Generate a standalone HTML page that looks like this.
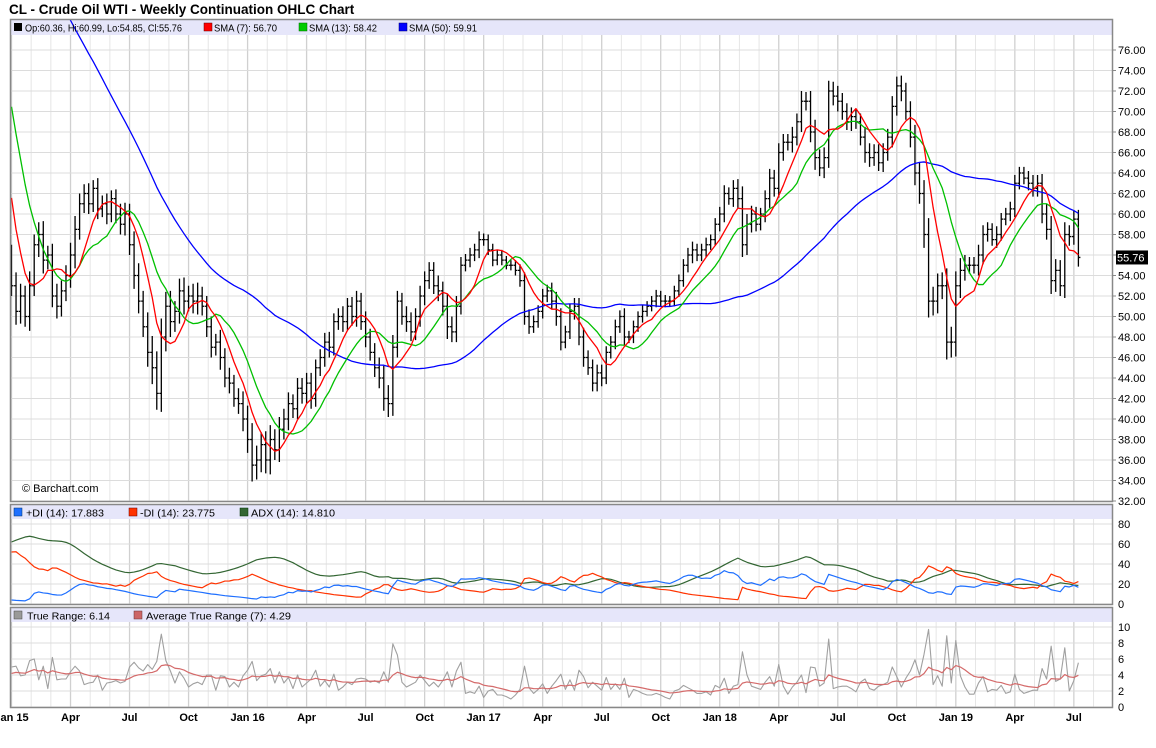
<!DOCTYPE html>
<html><head><meta charset="utf-8"><title>CL - Crude Oil WTI - Weekly Continuation OHLC Chart</title>
<style>
html,body{margin:0;padding:0;background:#fff;}
svg{display:block;font-family:"Liberation Sans",Arial,sans-serif;}
</style></head>
<body>
<svg id="chart" width="1156" height="748" viewBox="0 0 1156 748" xmlns="http://www.w3.org/2000/svg">
<text x="9" y="14" font-size="13.5" font-weight="bold" fill="#000">CL - Crude Oil WTI - Weekly Continuation OHLC Chart</text>
<g id="grid"></g>
<g id="bands">
<rect x="11" y="20" width="1101" height="15" fill="#e6e6fa"/>
<rect x="11" y="505" width="1101" height="14" fill="#e6e6fa"/>
<rect x="11" y="608" width="1101" height="14" fill="#e6e6fa"/>
</g>
<defs>
<clipPath id="clipMain"><rect x="11" y="20" width="1101" height="481"/></clipPath>
<clipPath id="clipDmi"><rect x="11" y="505" width="1101" height="99"/></clipPath>
<clipPath id="clipAtr"><rect x="11" y="608" width="1101" height="99"/></clipPath>
</defs>
<g id="main" clip-path="url(#clipMain)"></g>
<g id="dmi" clip-path="url(#clipDmi)"></g>
<g id="atr" clip-path="url(#clipAtr)"></g>
<g id="frames" fill="none" stroke="#888" stroke-width="1.5">
<rect x="10.5" y="19.5" width="1102" height="482"/>
<rect x="10.5" y="504.5" width="1102" height="100"/>
<rect x="10.5" y="607.5" width="1102" height="100"/>
</g>
<g id="axes" font-size="11" fill="#000"></g>
<g id="legends" font-size="10.5" fill="#000">
<rect x="14" y="23" width="8" height="8" fill="#000"/>
<text x="25" y="31.5" textLength="157" lengthAdjust="spacingAndGlyphs">Op:60.36, Hi:60.99, Lo:54.85, Cl:55.76</text>
<rect x="204" y="23" width="8" height="8" fill="#f00" stroke="#600" stroke-width="0.5"/>
<text x="214" y="31.5" textLength="63" lengthAdjust="spacingAndGlyphs">SMA (7): 56.70</text>
<rect x="299" y="23" width="8" height="8" fill="#0c0" stroke="#060" stroke-width="0.5"/>
<text x="309" y="31.5" textLength="68" lengthAdjust="spacingAndGlyphs">SMA (13): 58.42</text>
<rect x="399" y="23" width="8" height="8" fill="#00f" stroke="#006" stroke-width="0.5"/>
<text x="409" y="31.5" textLength="68" lengthAdjust="spacingAndGlyphs">SMA (50): 59.91</text>
<rect x="14" y="508" width="8" height="8" fill="#1e6fff" stroke="#036" stroke-width="0.5"/>
<text x="26" y="516.5" textLength="78" lengthAdjust="spacingAndGlyphs">+DI (14): 17.883</text>
<rect x="129" y="508" width="8" height="8" fill="#ff3300" stroke="#600" stroke-width="0.5"/>
<text x="140" y="516.5" textLength="75" lengthAdjust="spacingAndGlyphs">-DI (14): 23.775</text>
<rect x="240" y="508" width="8" height="8" fill="#336633" stroke="#030" stroke-width="0.5"/>
<text x="251" y="516.5" textLength="84" lengthAdjust="spacingAndGlyphs">ADX (14): 14.810</text>
<rect x="14" y="611" width="8" height="8" fill="#999" stroke="#444" stroke-width="0.5"/>
<text x="27" y="619.5" textLength="83" lengthAdjust="spacingAndGlyphs">True Range: 6.14</text>
<rect x="134" y="611" width="8" height="8" fill="#cc6666" stroke="#633" stroke-width="0.5"/>
<text x="146" y="619.5" textLength="145" lengthAdjust="spacingAndGlyphs">Average True Range (7): 4.29</text>
<text x="22" y="492" font-size="11">© Barchart.com</text>
</g>
</svg>
<script>
// ---- data (weekly) ----
const preCloses = [99,100,101,100,99,98,99,100,101,102,101,100,99,100,101,102,102,101,102,103,103,103,102,101,100,99,97,96,95,94,93,92,91,90,89,88,87,85,84,82,80,78,76,72,68,64,60,58,56];
const closes = [
53,50.5,52,50,53,57,58,55.5,56,52,51,52.5,54,
56,58.5,61,62,61,62.5,60.5,61,60,61.5,60,59,60,
57,54,51.5,49,46.5,45,42.5,48,51,49.5,50.5,52.5,51.5,
52,51.5,52,51,49,47,47.5,46,44,43.5,42,41.5,40,
38,35.5,36,37.5,36,38,37,39,40,41.5,41,43,42.5,
43.5,42,45,46,47.5,47,49.5,50,49.5,51,50,51.5,49.5,
48,46.5,45,44,42,41.5,47,51.5,50,49.5,48.5,50,52,
53.5,54.5,53,52.5,51,49,48.5,51,55,55.5,56,56.5,57.5,
57.5,56.5,55.5,56,55.5,55,55,54.5,53.5,50,49,49.5,50.5,
52,52.5,51.5,50,47.5,48.5,50.5,51,48,46,45,43.5,44.5,
44,46.5,47.5,49,50,48,48,49,50,50.5,51,51.5,52,
51.5,51.5,51.5,52.5,53.5,55,56,56.5,56,56.5,57,57.5,59,
60,62,61.5,62.5,61.5,57,59,60,59,60,61.5,63.5,62.5,
66,67,67,67.5,69,71,71,68,65.5,64.5,65.5,72,71.5,
71,70,69,69.5,69,67.5,66,65.5,66,65,66,67.5,70.5,
72.5,72,70,67.5,64,62,58,51.5,51.5,53,53,47.5,47.5,
53,54.5,55,55,55,56,58,58.5,57.5,58,59.5,60,60.5,
63,64,63.5,63,62.5,63,60,58.5,53.5,54.5,53,58,57.8,
59.5,55.76];
const wicks = [
1.0,1.3,1.2,1.0,1.4,1.0,1.2,1.3,0.9,1.1,1.2,1.0,1.0,
1.2,1.3,1.0,0.9,1.0,0.8,1.0,0.8,1.0,0.8,0.9,1.0,1.1,
1.0,1.3,1.2,1.0,1.4,1.6,1.6,1.8,1.4,1.5,1.0,1.2,1.3,
1.0,1.2,1.3,0.9,1.0,1.0,0.8,1.2,0.9,1.0,0.8,1.0,1.2,
1.3,1.6,1.4,1.2,1.3,1.4,1.0,1.2,1.0,1.1,0.9,1.0,1.0,
1.0,1.0,0.8,0.8,0.9,1.0,0.8,0.8,1.0,0.8,0.9,1.0,0.8,
1.0,0.8,0.9,1.0,1.2,1.3,1.2,1.0,0.8,1.0,0.9,0.8,1.0,
0.9,0.8,0.8,1.0,0.9,1.2,1.0,1.0,0.8,0.6,0.7,0.6,0.8,
0.6,0.5,0.6,0.5,0.5,0.4,0.5,0.5,0.6,0.8,0.7,0.6,0.6,
0.7,0.6,0.8,0.9,0.8,0.6,0.7,0.8,0.8,0.9,0.7,0.8,0.8,
0.8,0.6,0.6,0.7,0.6,0.8,0.6,0.6,0.5,0.6,0.5,0.5,0.6,
0.5,0.6,0.5,0.5,0.6,0.6,0.7,0.8,0.6,0.6,0.7,0.5,0.6,
0.7,0.8,0.6,0.8,0.9,1.2,1.0,0.8,0.7,0.6,0.8,0.9,0.8,
0.9,0.8,0.8,1.0,0.8,1.0,0.9,1.0,1.2,0.8,1.0,1.0,0.9,
1.0,0.8,0.8,0.9,0.7,0.8,1.0,0.9,0.8,0.8,0.9,0.8,1.0,
0.9,1.0,0.8,1.0,1.2,1.0,1.3,1.6,1.4,1.2,1.3,1.7,1.5,
1.4,1.2,1.0,0.8,0.8,1.0,0.9,0.7,0.6,0.8,0.6,0.6,0.7,
0.8,0.6,0.6,0.7,0.8,0.8,0.9,1.0,1.3,1.1,1.0,1.2,0.9,
0.8,0.9];
const priceTicks = [32,34,36,38,40,42,44,46,48,50,52,54,56,58,60,62,64,66,68,70,72,74,76];
const dmiTicks = [0,20,40,60,80];
const atrTicks = [0,2,4,6,8,10];
const xLabels = ["Jan 15","Apr","Jul","Oct","Jan 16","Apr","Jul","Oct","Jan 17","Apr","Jul","Oct","Jan 18","Apr","Jul","Oct","Jan 19","Apr","Jul"];
const xLabelWeek = [0,13,26,39,52,65,78,91,104,117,130,143,156,169,182,195,208,221,234];
const dmiSeed = [4,52,62]; // +DI, -DI, ADX starting values

// ---- scales ----
const NS="http://www.w3.org/2000/svg";
const X0=11.5, DX=4.54;
const xs = i => X0 + i*DX;
const yP = v => 501 - (v-32)*(451/44);
const yD = v => 604 - v;
const yA = v => 707 - v*8;
function mk(tag, attrs, parent){const e=document.createElementNS(NS,tag);for(const k in attrs)e.setAttribute(k,attrs[k]);parent.appendChild(e);return e;}

// ---- derived series ----
const N = closes.length;
const opens = closes.map((c,i)=> i===0 ? preCloses[preCloses.length-1] : closes[i-1]);
const highs = closes.map((c,i)=> Math.max(opens[i],c)+wicks[i]);
const lows = closes.map((c,i)=> Math.min(opens[i],c)-wicks[i]);
const all = preCloses.concat(closes);
function sma(n){return closes.map((c,i)=>{const j=i+preCloses.length;let s=0;for(let k=j-n+1;k<=j;k++)s+=all[k];return s/n;});}
const tr = closes.map((c,i)=>{const pc=opens[i];return Math.max(highs[i]-lows[i],Math.abs(highs[i]-pc),Math.abs(lows[i]-pc));});
const atr=[];let a=tr[0];tr.forEach((t,i)=>{a=i===0?4.2:(a*6+t)/7;atr.push(a);});
const pdi=[],mdi=[],adx=[];
let sTR=4*14,sP=dmiSeed[0]/100*sTR,sM=dmiSeed[1]/100*sTR,ax=dmiSeed[2];
for(let i=0;i<N;i++){
  if(i>0){
    const up=highs[i]-highs[i-1], dn=lows[i-1]-lows[i];
    const p=(up>dn&&up>0)?up:0, m=(dn>up&&dn>0)?dn:0;
    sTR=sTR-sTR/14+tr[i]; sP=sP-sP/14+p; sM=sM-sM/14+m;
  }
  const P=100*sP/sTR, M=100*sM/sTR;
  const dx=(P+M)>0?100*Math.abs(P-M)/(P+M):0;
  if(i>0) ax=(ax*13+dx)/14;
  pdi.push(P);mdi.push(M);adx.push(ax);
}

// ---- grid ----
const grid=document.getElementById('grid');
for(let m=0;m<=56;m++){
  const x=xs(m*52/12);
  if(x>1112)break;
  const major = (m%3===0);
  [[20,501],[505,604],[608,707]].forEach(r=>{
    const l=mk('line',{x1:x,x2:x,y1:r[0],y2:r[1],stroke:major?'#d0d0d0':'#e6e6e6','stroke-width':major?1.3:1},grid);
    
    
  });
}
priceTicks.forEach(v=>{const l=mk('line',{x1:11,x2:1112,y1:yP(v),y2:yP(v),stroke:'#dcdcdc','stroke-width':1},grid);});
dmiTicks.forEach(v=>{const l=mk('line',{x1:11,x2:1112,y1:yD(v),y2:yD(v),stroke:'#dcdcdc','stroke-width':1},grid);});
atrTicks.forEach(v=>{const l=mk('line',{x1:11,x2:1112,y1:yA(v),y2:yA(v),stroke:'#dcdcdc','stroke-width':1},grid);});

// ---- axes ----
const axes=document.getElementById('axes');
priceTicks.forEach(v=>{const t=mk('text',{x:1118,y:yP(v)+4},axes);t.textContent=v.toFixed(2);
 const k=mk('line',{x1:1112,x2:1116,y1:yP(v),y2:yP(v),stroke:'#888'},axes);});
dmiTicks.forEach(v=>{const t=mk('text',{x:1118,y:yD(v)+4},axes);t.textContent=v;});
atrTicks.forEach(v=>{const t=mk('text',{x:1118,y:yA(v)+4},axes);t.textContent=v;});
xLabels.forEach((s,i)=>{const t=mk('text',{x:xs(xLabelWeek[i]),y:721,'text-anchor':'middle','font-weight':'bold'},axes);t.textContent=s;});
const lastC=closes[N-1];
const box=mk('rect',{x:1116,y:yP(lastC)-7,width:32,height:14,fill:'#000'},axes);


const lt=mk('text',{x:1117,y:yP(lastC)+4,fill:'#fff'},axes);lt.textContent=lastC.toFixed(2);



// ---- price bars ----
const main=document.getElementById('main');
const bars=mk('g',{stroke:'#000','stroke-width':1.3},main);


for(let i=0;i<N;i++){
  const x=xs(i);
  const g=mk('path',{d:`M${x},${yP(highs[i])}V${yP(lows[i])}M${x-2},${yP(opens[i])}H${x}M${x},${yP(closes[i])}H${x+2}`,fill:'none'},bars);
  
  
}
function line(parent,vals,yf,color,name,w){
  const d=vals.map((v,i)=>(i?'L':'M')+xs(i).toFixed(2)+','+yf(v).toFixed(2)).join('');
  const p=mk('path',{d:d,fill:'none',stroke:color,'stroke-width':w||1.3,'stroke-linejoin':'round'},parent);
  
  
}
line(main,sma(50),yP,'#0000ff','sma50-line');
line(main,sma(13),yP,'#00c000','sma13-line');
line(main,sma(7),yP,'#ff0000','sma7-line');

const dmi=document.getElementById('dmi');
line(dmi,adx,yD,'#336633','adx-line',1.2);
line(dmi,mdi,yD,'#ff3300','minus-di-line',1.2);
line(dmi,pdi,yD,'#1e6fff','plus-di-line',1.2);

const atrG=document.getElementById('atr');
line(atrG,tr,yA,'#a0a0a0','true-range-line',1.1);
line(atrG,atr,yA,'#d46a6a','atr-line',1.2);
</script>
</body></html>
